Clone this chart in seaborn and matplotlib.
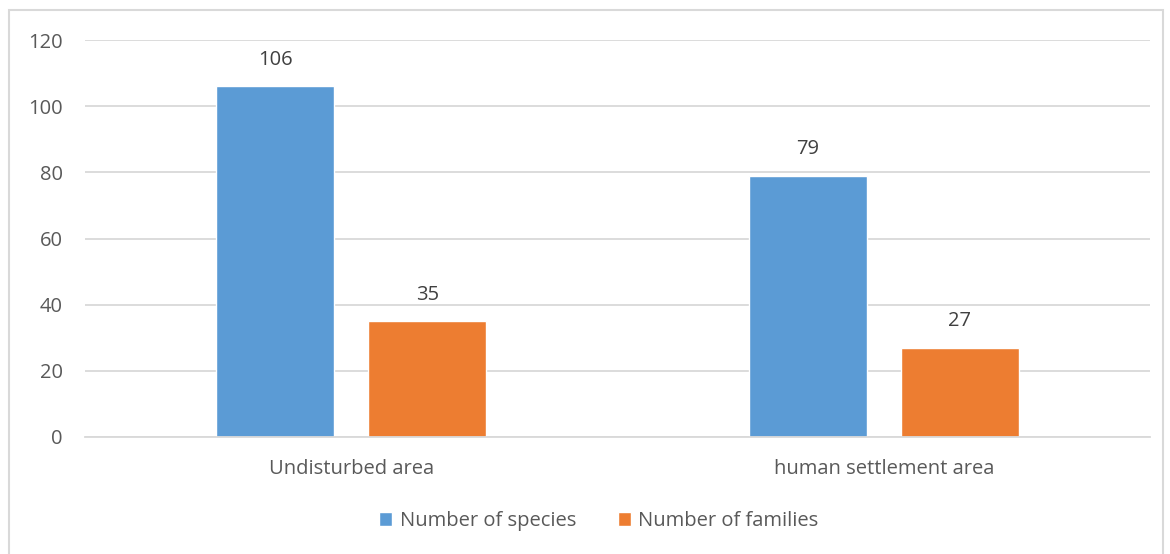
import pandas as pd
import matplotlib.pyplot as plt
import seaborn as sns
from matplotlib.patches import Rectangle

# chart data
areas = ['Undisturbed area', 'human settlement area']
series = ['Number of species', 'Number of families']
species = [106, 79]
families = [35, 27]
colors = ['#5B9BD5', '#ED7D31']
yticks = [0, 20, 40, 60, 80, 100, 120]

df = pd.DataFrame({
    'Area': areas * 2,
    'Series': [series[0]] * len(areas) + [series[1]] * len(areas),
    'Value': species + families,
})

sns.set_theme(style='white')
plt.rcParams['font.family'] = ['Open Sans', 'DejaVu Sans']
text_color = '#595959'
grid_color = '#D9D9D9'

W, H = 1170, 554
fig = plt.figure(figsize=(W / 100, H / 100), dpi=100)
fig.patches.append(Rectangle((9 / W, -0.05), (1163 - 9) / W, 1.05 - 10 / H,
                             transform=fig.transFigure, fill=False,
                             edgecolor=grid_color, linewidth=1.5))
ax = fig.add_axes([85 / W, 1 - 437 / H, (1150 - 85) / W, (437 - 40) / H])

sns.barplot(data=df, x='Area', y='Value', hue='Series', palette=colors,
            width=0.571, gap=0.224, saturation=1, ax=ax, legend=True)

for cont in ax.containers:
    ax.bar_label(cont, padding=12, fontsize=14.5, color='#404040')

ax.set_ylim(0, 120)
ax.set_xlim(-0.5, 1.5)
ax.set_yticks(yticks)
ax.yaxis.grid(True, color=grid_color, linewidth=1.3)
ax.set_axisbelow(True)
for s in ['top', 'right', 'left']:
    ax.spines[s].set_visible(False)
ax.spines['bottom'].set_color(grid_color)
ax.spines['bottom'].set_linewidth(1.3)
ax.tick_params(axis='y', length=0, pad=16, labelsize=14.5, labelcolor=text_color)
ax.tick_params(axis='x', length=0, pad=16, labelsize=14.5, labelcolor=text_color)
ax.set_xlabel('')
ax.set_ylabel('')

handles, labels = ax.get_legend_handles_labels()
ax.get_legend().remove()
fig.legend(handles, labels, loc='center', bbox_to_anchor=(599 / W, 1 - 521 / H),
           ncol=2, frameon=False, fontsize=14.5, labelcolor=text_color,
           handlelength=0.65, handleheight=0.65, handletextpad=0.35, columnspacing=2.1)

fig.savefig('out.png', dpi=100)
